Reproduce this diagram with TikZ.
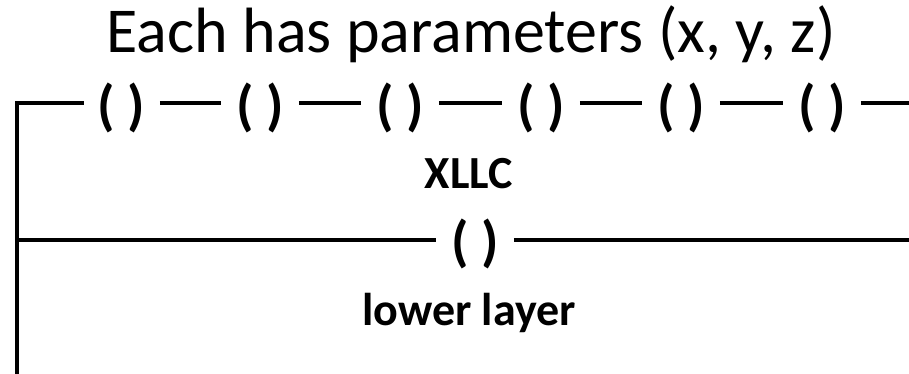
\documentclass[tikz,border=0pt]{standalone}
\usepackage{fontspec}
\setmainfont{Carlito}
\begin{document}
\begin{tikzpicture}[x=1pt,y=1pt,
  rung/.style={line width=3.5pt},
  coil/.style={inner xsep=15pt,inner ysep=0pt,font=\fontsize{56}{56}\selectfont\bfseries},
  lbl/.style={inner sep=0pt,font=\fontsize{46}{46}\selectfont\bfseries},
  ttl/.style={inner sep=0pt,font=\fontsize{64}{64}\selectfont}]
\useasboundingbox (0,0) rectangle (909,-374);
\node[ttl,anchor=base] (title) at (471,-53) {Each has parameters (x, y, z)};
\coordinate (railtop) at (17,-103);
\coordinate (railbot) at (17,-376);
\coordinate (rung2) at (17,-240);
\coordinate (end1) at (911,-103);
\coordinate (end2) at (911,-240);
\foreach \i/\x in {1/121,2/260,3/400,4/541,5/681,6/822}
  \node[coil] (p\i) at (\x,-108) {( )};
\node[coil] (q) at (475,-244) {( )};
\node[lbl,anchor=base] (xllc) at (469,-188) {XLLC};
\node[lbl,anchor=base] (lower) at (469,-325) {lower layer};
\draw[rung,line cap=rect] (railbot) -- (railtop) -- (railtop -| p1.west);
\foreach \a/\b in {1/2,2/3,3/4,4/5,5/6}
  \draw[rung] (railtop -| p\a.east) -- (railtop -| p\b.west);
\draw[rung] (railtop -| p6.east) -- (end1);
\draw[rung] (rung2) -- (rung2 -| q.west);
\draw[rung] (rung2 -| q.east) -- (end2);
\end{tikzpicture}
\end{document}
